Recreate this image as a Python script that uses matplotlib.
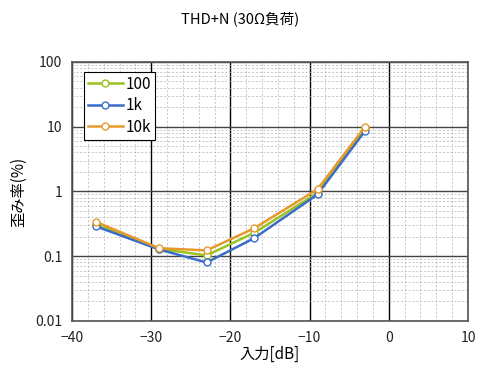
import matplotlib
matplotlib.use("Agg")
import matplotlib.pyplot as plt
from matplotlib.ticker import MultipleLocator, LogLocator, FixedLocator, NullFormatter

plt.rcParams['font.family'] = ['Noto Sans CJK JP', 'DejaVu Sans']

x_in = [-37, -29, -23, -17, -9, -3]
series_names = ['100', '1k', '10k']
thd_100 = [0.32, 0.13, 0.103, 0.23, 0.95, 9.4]
thd_1k = [0.29, 0.127, 0.080, 0.19, 0.90, 8.6]
thd_10k = [0.34, 0.133, 0.123, 0.27, 1.08, 10.0]
colors = ['#99C31E', '#3A6CC8', '#E69A2E']

fig = plt.figure(figsize=(4.8, 3.81), dpi=100)
ax = fig.add_axes([0.15, 0.1575, 0.825, 0.68])

ax.set_yscale('log')
ax.set_xlim(-40, 10)
ax.set_ylim(0.01, 100)

ax.xaxis.set_major_locator(MultipleLocator(10))
ax.xaxis.set_minor_locator(MultipleLocator(2))
ax.yaxis.set_major_locator(FixedLocator([0.01, 0.1, 1, 10, 100]))
ax.yaxis.set_minor_locator(LogLocator(base=10, subs=range(2, 10)))
ax.yaxis.set_minor_formatter(NullFormatter())
ax.set_yticklabels(['0.01', '0.1', '1', '10', '100'])

ax.grid(which='minor', color='#B4B4B4', linestyle=(0, (3, 2.5)), linewidth=0.5)
ax.grid(which='major', axis='x', color='black', linestyle='-', linewidth=1.0)
ax.grid(which='major', axis='y', color='#444444', linestyle='-', linewidth=1.0)
ax.set_axisbelow(True)

ax.tick_params(which='both', length=0, labelsize=10, colors='#222222', pad=7)
for s in ax.spines.values():
    s.set_color('#555555')
    s.set_linewidth(1.2)

for name, vals, c in zip(series_names, [thd_100, thd_1k, thd_10k], colors):
    ax.plot(x_in, vals, color=c, linewidth=1.8, marker='o', markersize=5,
            markerfacecolor='white', markeredgecolor=c, markeredgewidth=1, label=name)

leg = ax.legend(loc='upper left', bbox_to_anchor=(0.03, 0.962), fontsize=11,
                frameon=True, fancybox=False, edgecolor='black', framealpha=1,
                handlelength=2.3, borderpad=0.25, labelspacing=0.3, handletextpad=0.2,
                borderaxespad=0)
leg.get_frame().set_linewidth(0.8)

ax.set_xlabel('入力[dB]', fontsize=11, labelpad=1)
ax.set_ylabel('歪み率(%)', fontsize=11, labelpad=6)
fig.suptitle('THD+N (30Ω負荷)', fontsize=10.5, y=0.97)

fig.savefig('out.png', dpi=100)
